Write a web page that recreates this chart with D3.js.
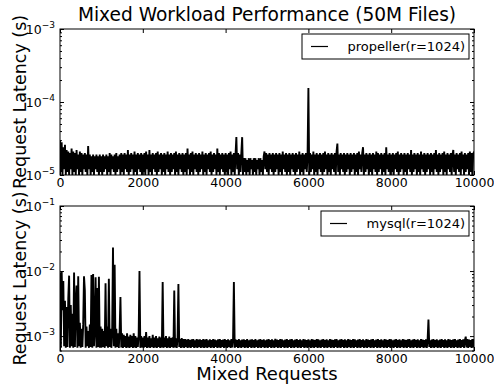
<!DOCTYPE html>
<html>
<head>
<meta charset="utf-8">
<script src="https://cdn.jsdelivr.net/npm/d3@7"></script>
<style>
  body { margin: 0; background: #fff; }
  svg { display: block; font-family: "DejaVu Sans", sans-serif; }
</style>
</head>
<body>
<div id="chart"></div>
<script>
// one sample every 20 requests, 0..10000
const requestStep = 20;
const xTicks = [0, 2000, 4000, 6000, 8000, 10000];

// propeller latency, microseconds
const propellerLatencyUs = [
  30,11,28,10,24,12,26,10,22,11,21,10,20,12,23,10,21,11,20,10,22,12,19,10,21,
  11,20,10,19,12,20,11,19,10,25,12,19,10,18,11,19,10,18,12,19,11,18,10,19,11,
  18,10,19,11,18,12,19,10,18,11,20,10,19,12,18,11,19,10,20,11,18,12,19,10,20,
  11,19,10,20,12,19,11,22,10,19,11,20,12,19,10,21,11,19,10,20,12,19,11,20,10,
  19,11,20,10,21,12,19,10,22,11,19,10,20,12,19,11,20,10,21,11,19,12,20,10,19,
  11,20,10,19,12,21,11,19,10,20,11,19,12,20,10,21,11,19,10,20,12,19,11,20,10,
  19,11,20,10,23,12,19,10,20,11,21,10,19,12,20,11,19,10,20,11,19,12,21,10,19,
  11,20,10,19,12,20,11,21,10,19,11,20,12,19,10,23,11,20,10,19,12,20,11,19,10,
  20,11,19,10,20,12,21,10,19,11,20,10,19,33,12,20,10,19,11,20,33,10,17,11,17,
  10,16,11,17,10,17,12,16,10,17,11,17,10,16,12,17,10,17,11,16,10,18,21,12,20,
  11,19,10,20,12,19,11,20,10,19,11,20,12,19,10,20,11,19,10,21,12,19,11,20,10,
  19,11,20,10,19,12,20,11,19,10,20,11,19,12,21,10,19,11,20,10,19,12,20,11,19,
  155,10,20,11,19,12,21,10,19,11,20,10,19,12,20,11,19,10,20,11,21,12,19,10,20,
  11,19,10,20,12,19,11,20,10,21,27,11,19,10,20,12,19,11,20,10,19,11,20,12,19,
  10,20,11,19,12,20,10,19,11,20,10,21,12,19,11,20,24,10,19,11,20,12,19,10,20,
  11,19,10,20,12,19,11,21,10,20,11,19,12,20,10,19,11,20,10,24,12,19,11,20,10,
  19,11,20,10,19,12,20,11,21,10,19,11,20,12,19,10,20,11,19,10,20,12,19,11,22,
  10,19,11,20,12,19,10,20,11,19,10,21,12,19,11,20,10,19,11,20,12,19,10,20,11,
  19,10,20,12,22,11,19,10,20,11,19,12,20,10,21,11,19,10,20,12,19,11,20,10,19,
  22,11,19,10,20,12,19,11,20,10,21,12,19,10,20,11,19,12,20,10,21,11,20,10,19,
  21
];

// mysql latency, milliseconds
const mysqlLatencyMs = [
  9.5,0.66,10,2.5,7.0,0.7,3.5,0.66,2.8,0.68,3.8,8.5,0.66,3.0,0.7,2.2,0.66,9.5,0.68,3.2,6.0,0.66,8.3,0.7,1.6,
  0.66,1.3,0.68,1.5,8.3,5.0,0.66,1.4,0.7,1.2,0.66,1.5,0.68,8.7,0.66,9.0,0.7,1.3,8.0,0.66,5.5,0.68,8.2,0.66,1.4,
  0.66,1.3,0.68,1.2,0.66,6.5,0.7,1.4,0.66,7.6,0.68,1.3,0.66,1.2,23,0.7,12.5,0.66,1.3,0.68,1.1,0.66,1.2,4.0,0.67,
  1.1,0.66,1.05,0.68,1.0,0.66,1.1,0.67,0.98,0.66,1.05,0.68,1.0,0.66,1.1,0.67,1.0,0.66,0.95,0.68,1.05,10,0.66,1.0,0.67,
  0.95,0.66,1.0,0.68,1.15,0.66,0.95,0.67,1.0,0.66,0.92,0.68,1.05,0.66,0.95,0.67,1.0,0.66,0.92,0.68,0.98,0.66,0.95,0.67,6.8,
  0.66,0.95,0.68,1.0,0.66,0.92,0.67,0.98,0.66,0.93,0.68,0.96,0.66,5.0,0.67,0.92,0.66,0.95,6.3,0.68,0.9,0.66,0.93,0.67,0.9,
  0.66,0.9,0.68,0.88,0.66,0.9,0.67,0.87,0.66,0.89,0.68,0.9,0.66,0.86,0.67,0.9,0.66,0.88,0.68,0.89,0.66,0.87,0.67,0.9,0.66,
  0.88,0.67,0.9,0.66,0.86,0.68,0.89,0.66,0.87,0.67,0.9,0.66,0.88,0.68,0.86,0.66,0.89,0.67,0.9,0.66,0.87,0.68,0.88,0.66,0.9,
  0.67,0.87,0.66,0.89,0.68,0.86,0.66,0.9,0.67,0.88,6.8,0.66,0.89,0.68,0.87,0.66,0.9,0.67,0.86,0.66,0.88,0.68,0.89,0.66,0.87,
  0.67,0.9,0.66,0.86,0.68,0.88,0.66,0.89,0.67,0.87,0.66,0.9,0.68,0.86,0.66,0.88,0.67,0.9,0.66,0.87,0.68,0.89,0.66,0.86,0.67,
  0.88,0.66,0.9,0.68,0.87,0.66,0.89,0.67,0.86,0.66,0.91,0.68,0.88,0.66,0.87,0.67,0.9,0.66,0.89,0.68,0.86,0.66,0.88,0.67,0.9,
  0.66,0.87,0.68,0.89,0.66,0.9,0.67,0.86,0.66,0.88,0.68,0.9,0.66,0.87,0.67,0.89,0.66,0.86,0.68,0.9,0.66,0.88,0.67,0.87,0.66,
  0.89,0.68,0.86,0.66,0.9,0.67,0.88,0.66,0.87,0.68,0.9,0.66,0.89,0.67,0.86,0.66,0.88,0.68,0.9,0.66,0.87,0.67,0.89,0.66,0.86,
  0.68,0.9,0.66,0.88,0.67,0.87,0.66,0.89,0.68,0.9,0.66,0.86,0.67,0.88,0.66,0.9,0.68,0.87,0.66,0.89,0.67,0.86,0.66,0.9,0.68,
  0.88,0.66,0.87,0.67,0.9,0.66,0.89,0.68,0.86,0.66,0.88,0.67,0.9,0.66,0.87,0.68,0.89,0.66,0.86,0.67,0.9,0.66,0.88,0.68,0.87,
  0.66,0.89,0.67,0.9,0.66,0.86,0.68,0.88,0.66,0.9,0.67,0.87,0.66,0.89,0.68,0.86,0.66,0.9,0.67,0.88,0.66,0.87,0.68,0.9,0.66,
  0.89,0.67,0.86,0.66,0.88,0.68,0.9,0.66,0.87,0.67,0.89,0.66,0.86,0.68,0.9,0.66,0.88,0.67,0.87,0.66,0.89,0.68,0.9,0.66,0.86,
  0.67,0.88,0.66,0.9,0.68,0.87,0.66,0.89,0.67,0.86,0.66,0.9,0.68,0.88,0.66,0.87,0.67,0.89,0.66,0.9,1.8,0.68,0.86,0.66,0.88,
  0.67,0.9,0.66,0.87,0.68,0.89,0.66,0.86,0.67,0.88,0.66,0.9,0.68,0.87,0.66,0.89,0.67,0.86,0.66,0.9,0.68,0.88,0.66,0.87,0.67,
  0.89,0.66,0.9,0.68,0.86,0.66,0.88,0.67,0.9,0.66,0.87,0.68,0.89,0.66,0.86,0.98,0.67,0.9,0.66,0.88,0.68,0.87,0.66,0.9,0.67,
  0.88
];

const width = 494, height = 385;
const marginLeft = 60, marginRight = 20;

const panels = [
  { name: "propeller(r=1024)", values: propellerLatencyUs.map(v => v * 1e-6),
    top: 29, bottom: 175, yDomain: [1e-5, 1e-3], decades: [1e-5, 1e-4, 1e-3],
    legend: { x: 302, y: 34, w: 167 } },
  { name: "mysql(r=1024)", values: mysqlLatencyMs.map(v => v * 1e-3),
    top: 206, bottom: 351, yDomain: [5.9e-4, 1e-1], decades: [1e-3, 1e-2, 1e-1],
    legend: { x: 321, y: 211, w: 148 } }
];

const svg = d3.select("#chart").append("svg")
  .attr("width", width)
  .attr("height", height);

const xScale = d3.scaleLinear().domain([0, 10000]).range([marginLeft, width - marginRight]);

svg.append("text")
  .attr("x", (marginLeft + width - marginRight) / 2)
  .attr("y", 21)
  .attr("text-anchor", "middle")
  .attr("font-size", 18.6)
  .text("Mixed Workload Performance (50M Files)");

panels.forEach((p, k) => {
  const y = d3.scaleLog().domain(p.yDomain).range([p.bottom, p.top]);
  const g = svg.append("g");

  g.append("clipPath").attr("id", "clip" + k)
    .append("rect")
    .attr("x", marginLeft).attr("y", p.top)
    .attr("width", xScale(10000) - marginLeft).attr("height", p.bottom - p.top);

  const line = d3.line()
    .x((d, i) => xScale(i * requestStep))
    .y(d => y(d));

  g.append("path")
    .datum(p.values)
    .attr("clip-path", `url(#clip${k})`)
    .attr("fill", "none")
    .attr("stroke", "#000")
    .attr("stroke-width", 1.9)
    .attr("stroke-linejoin", "bevel")
    .attr("d", line);

  // minor log ticks
  const minors = [];
  d3.range(Math.floor(Math.log10(p.yDomain[0])), Math.ceil(Math.log10(p.yDomain[1]))).forEach(e => {
    for (let m = 2; m < 10; m++) {
      const v = m * Math.pow(10, e);
      if (v >= p.yDomain[0] && v <= p.yDomain[1]) minors.push(v);
    }
  });

  const axes = [
    d3.axisBottom(xScale).tickValues(xTicks).tickSizeInner(-4).tickSizeOuter(0).tickPadding(3).tickFormat(d3.format("d")),
    d3.axisTop(xScale).tickValues(xTicks).tickSizeInner(-4).tickSizeOuter(0).tickFormat(""),
  ];
  g.append("g").attr("transform", `translate(0,${p.bottom})`).call(axes[0])
    .call(s => s.select(".domain").remove())
    .call(s => s.selectAll("text").attr("font-size", 12.5).attr("font-family", "DejaVu Sans").attr("fill", "#000"));
  g.append("g").attr("transform", `translate(0,${p.top})`).call(axes[1])
    .call(s => s.select(".domain").remove());

  [["left", marginLeft, d3.axisLeft], ["right", xScale(10000), d3.axisRight]].forEach(([side, xPos, ax]) => {
    g.append("g").attr("transform", `translate(${xPos},0)`)
      .call(ax(y).tickValues(p.decades).tickSizeInner(-4).tickSizeOuter(0).tickFormat(""))
      .call(s => s.select(".domain").remove());
    g.append("g").attr("transform", `translate(${xPos},0)`)
      .call(ax(y).tickValues(minors).tickSizeInner(-2).tickSizeOuter(0).tickFormat(""))
      .call(s => s.select(".domain").remove());
  });

  // decade labels as 10 with superscript exponent
  p.decades.forEach(v => {
    const t = g.append("text")
      .attr("x", marginLeft - 5)
      .attr("y", y(v) + 5)
      .attr("text-anchor", "end")
      .attr("font-size", 12.5);
    t.append("tspan").text("10");
    t.append("tspan").attr("font-size", 9).attr("dy", -6).text("\u2212" + Math.round(-Math.log10(v)));
  });

  g.append("rect")
    .attr("x", marginLeft).attr("y", p.top)
    .attr("width", xScale(10000) - marginLeft).attr("height", p.bottom - p.top)
    .attr("fill", "none").attr("stroke", "#000").attr("stroke-width", 1);

  // legend
  const L = p.legend;
  g.append("rect")
    .attr("x", L.x).attr("y", L.y).attr("width", L.w).attr("height", 25)
    .attr("fill", "#fff").attr("stroke", "#000").attr("stroke-width", 1);
  g.append("line")
    .attr("x1", L.x + 9).attr("x2", L.x + 26)
    .attr("y1", L.y + 12.5).attr("y2", L.y + 12.5)
    .attr("stroke", "#000").attr("stroke-width", 1.2);
  g.append("text")
    .attr("x", L.x + L.w - 4).attr("y", L.y + 17)
    .attr("text-anchor", "end")
    .attr("font-size", 13)
    .text(p.name);

  svg.append("text")
    .attr("transform", `translate(26,${(p.top + p.bottom) / 2}) rotate(-90)`)
    .attr("text-anchor", "middle")
    .attr("font-size", 17.5)
    .text("Request Latency (s)");
});

svg.append("text")
  .attr("x", (marginLeft + width - marginRight) / 2)
  .attr("y", 380)
  .attr("text-anchor", "middle")
  .attr("font-size", 18)
  .text("Mixed Requests");
</script>
</body>
</html>
